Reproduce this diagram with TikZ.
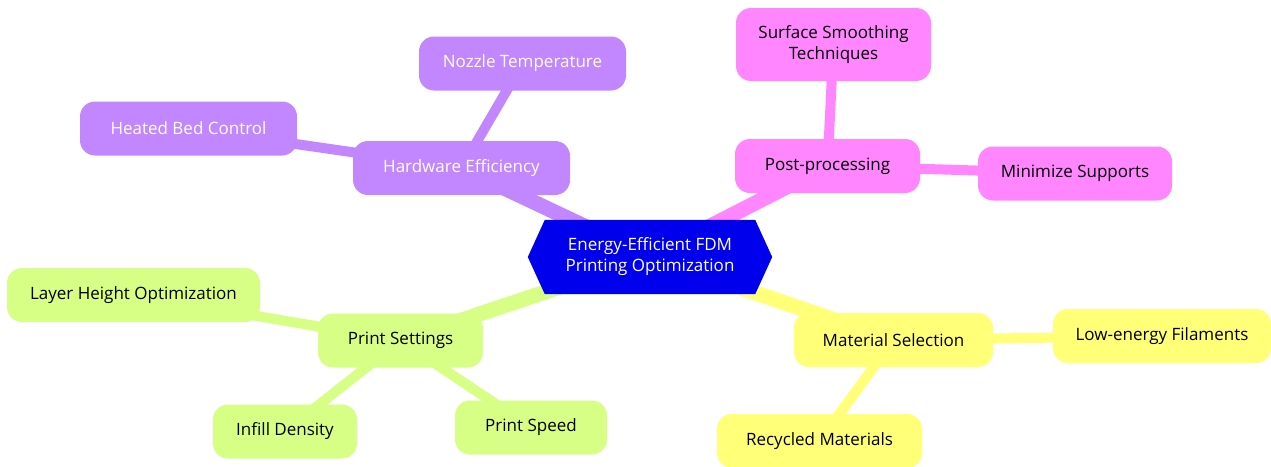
\documentclass[tikz,border=0pt]{standalone}
\usepackage{fontspec}
\setmainfont{Open Sans}
\usetikzlibrary{backgrounds}
\definecolor{rootblue}{RGB}{0,0,236}
\definecolor{hwpurple}{RGB}{194,134,255}
\definecolor{pppink}{RGB}{255,134,255}
\definecolor{psgreen}{RGB}{215,255,134}
\definecolor{msyellow}{RGB}{255,255,120}
\tikzset{
    idea/.style = {rectangle, rounded corners=15pt, minimum height=54pt, inner xsep=4pt, font=\fontsize{17}{21}\selectfont, align=center},
    root-text/.style = {rectangle, minimum width=244pt, minimum height=74pt, text=white, font=\fontsize{17}{21}\selectfont, align=center},
    branch/.style = {line width=15pt},
    twig/.style = {line width=10pt},
}

\begin{document}
\begin{tikzpicture}[x=1pt, y=-1pt]
\useasboundingbox (0,0) rectangle (1271,466);
% root
\node [root-text] (root) at (650,257) {Energy-Efficient FDM\\Printing Optimization};
% hardware
\node [idea, fill=hwpurple, text=white, minimum width=217pt] (hw) at (461.5,168) {Hardware Efficiency};
\node [idea, fill=hwpurple, text=white, minimum width=207pt] (nozzle) at (522.5,63.5) {Nozzle Temperature};
\node [idea, fill=hwpurple, text=white, minimum width=217pt] (bed) at (188.5,128.5) {Heated Bed Control};
% post-processing
\node [idea, fill=pppink, minimum width=185pt] (post) at (827.5,166) {Post-processing};
\node [idea, fill=pppink, minimum width=195pt, minimum height=73pt] (smooth) at (833.5,44.5) {Surface Smoothing\\Techniques};
\node [idea, fill=pppink, minimum width=194pt] (supports) at (1075,173.5) {Minimize Supports};
% print settings
\node [idea, fill=psgreen, minimum width=165pt] (settings) at (400.5,340.5) {Print Settings};
\node [idea, fill=psgreen, minimum width=253pt] (layer) at (133.5,295) {Layer Height Optimization};
\node [idea, fill=psgreen, minimum width=144pt] (infill) at (285,431.5) {Infill Density};
\node [idea, fill=psgreen, minimum width=152pt] (speed) at (531,427.5) {Print Speed};
% material
\node [idea, fill=msyellow, minimum width=199pt] (material) at (893.5,340) {Material Selection};
\node [idea, fill=msyellow, minimum width=218pt] (filaments) at (1162,336) {Low-energy Filaments};
\node [idea, fill=msyellow, minimum width=205pt] (recycled) at (819.5,441) {Recycled Materials};

\begin{scope}[on background layer]
\draw [branch, hwpurple] (root.center) -- (hw.center);
\draw [twig, hwpurple] (hw.center) -- (nozzle.center);
\draw [twig, hwpurple] (hw.center) -- (bed.center);
\draw [branch, pppink] (root.center) -- (post.center);
\draw [twig, pppink] (post.center) -- (smooth.center);
\draw [twig, pppink] (post.center) -- (supports.center);
\draw [branch, psgreen] (root.center) -- (settings.center);
\draw [twig, psgreen] (settings.center) -- (layer.center);
\draw [twig, psgreen] (settings.center) -- (infill.center);
\draw [twig, psgreen] (settings.center) -- (speed.center);
\draw [branch, msyellow] (root.center) -- (material.center);
\draw [twig, msyellow] (material.center) -- (filaments.center);
\draw [twig, msyellow] (material.center) -- (recycled.center);
\fill [rootblue] (root.west) -- ([xshift=17pt]root.north west) -- ([xshift=-17pt]root.north east)
    -- (root.east) -- ([xshift=-17pt]root.south east) -- ([xshift=17pt]root.south west) -- cycle;
\end{scope}
\end{tikzpicture}
\end{document}
